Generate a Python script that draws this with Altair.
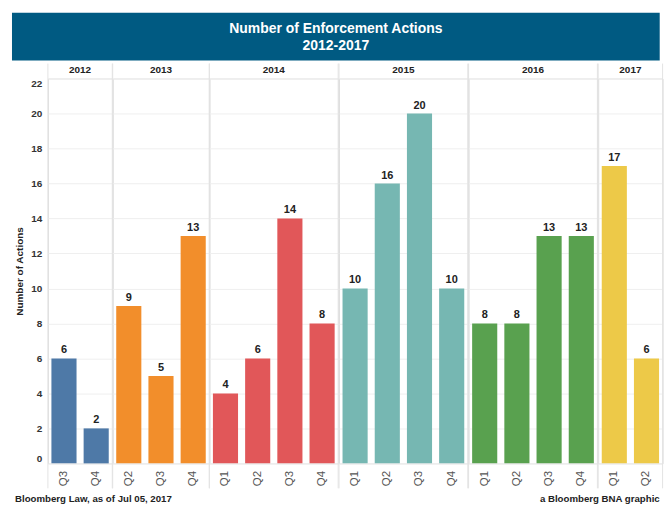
import altair as alt
import pandas as pd

years = ["2012", "2012", "2013", "2013", "2013", "2014", "2014", "2014", "2014",
         "2015", "2015", "2015", "2015", "2016", "2016", "2016", "2016", "2017", "2017"]
quarters = ["Q3", "Q4", "Q2", "Q3", "Q4", "Q1", "Q2", "Q3", "Q4",
            "Q1", "Q2", "Q3", "Q4", "Q1", "Q2", "Q3", "Q4", "Q1", "Q2"]
actions = [6, 2, 9, 5, 13, 4, 6, 14, 8, 10, 16, 20, 10, 8, 8, 13, 13, 17, 6]

year_order = ["2012", "2013", "2014", "2015", "2016", "2017"]
year_colors = ["#4e79a7", "#f28e2b", "#e15759", "#76b7b2", "#59a14f", "#edc948"]
y_ticks = list(range(0, 23, 2))

title_text = "Number of Enforcement Actions\n2012-2017"
footer_left = "Bloomberg Law, as of Jul 05, 2017"
footer_right = "a Bloomberg BNA graphic"

FONT = "Liberation Sans, Arial, sans-serif"
STEP = 32.3
PLOT_W = STEP * len(actions)
PLOT_H = 386
LEFT = 36  # room for y axis, left of plot area
SEP = "#e3e3e3"

df = pd.DataFrame({"year": years, "quarter": quarters, "actions": actions})

banner_bg = alt.Chart(pd.DataFrame({"t": [title_text]})).mark_rect(color="#005a82").encode(
    x=alt.value(-LEFT), x2=alt.value(PLOT_W), y=alt.value(0), y2=alt.value(48)
)
banner_txt = alt.Chart(pd.DataFrame({"t": [title_text]})).mark_text(
    font=FONT, fontSize=14, fontWeight="bold", color="white",
    lineBreak="\n", lineHeight=17, align="center", baseline="middle"
).encode(text="t:N", x=alt.value((PLOT_W - LEFT) / 2), y=alt.value(16))
banner = alt.layer(banner_bg, banner_txt).properties(
    width=PLOT_W, height=48, view=alt.ViewBackground(stroke=None)
)

y_label_baseline = {
    "condition": [
        {"test": "datum.value == 22", "value": "top"},
        {"test": "datum.value == 0", "value": "bottom"},
    ],
    "value": "middle",
}

x_enc = alt.X("quarter:N", title=None, sort=None,
              scale=alt.Scale(paddingInner=0.22, paddingOuter=0.11),
              axis=alt.Axis(labelAngle=270, labelFont=FONT, labelFontSize=11.5,
                            labelColor="#555", ticks=False, domain=False,
                            labelPadding=7, labelAlign="right", labelBaseline="middle"))
y_enc = alt.Y("actions:Q", title="Number of Actions",
              scale=alt.Scale(domain=[0, 22], nice=False),
              axis=alt.Axis(values=y_ticks, tickCount=12, labelOverlap=False,
                            labelBaseline=y_label_baseline,
                            labelFont=FONT, labelFontSize=10, labelFontWeight="bold",
                            labelColor="#333", titleFont=FONT, titleFontSize=10,
                            titleFontWeight="bold", titleColor="#222", ticks=False,
                            domain=False, gridColor="#efefef", labelPadding=6,
                            titlePadding=6))

base = alt.Chart().encode(x=x_enc, y=y_enc)
bars = base.mark_bar().encode(
    color=alt.Color("year:N", legend=None,
                    scale=alt.Scale(domain=year_order, range=year_colors)),
)
labels = base.mark_text(font=FONT, fontSize=11, fontWeight="bold", color="#222",
                        dy=-8).encode(text="actions:Q")

sep_left = alt.Chart().transform_aggregate(n="count()", groupby=["year"]).mark_rule(
    color=SEP, strokeWidth=1
).encode(x=alt.value(0), y=alt.value(-15), y2=alt.value(PLOT_H + 25))
sep_right = alt.Chart().transform_aggregate(n="count()", groupby=["year"]).mark_rule(
    color=SEP, strokeWidth=1
).encode(x=alt.value("width"), y=alt.value(-15), y2=alt.value(PLOT_H + 25))

facet = alt.layer(bars, labels, sep_left, sep_right, data=df).properties(
    width=alt.Step(STEP), height=PLOT_H
).facet(
    column=alt.Column("year:N", sort=year_order, title=None,
                      header=alt.Header(labelOrient="top", labelFont=FONT,
                                        labelFontSize=10, labelFontWeight="bold",
                                        labelColor="#222", labelPadding=4)),
    spacing=0,
    bounds="flush",
).resolve_scale(x="independent")

footer = alt.layer(
    alt.Chart(pd.DataFrame({"t": [footer_left]})).mark_text(
        font=FONT, fontSize=9.7, fontWeight="bold", color="#222", align="left"
    ).encode(text="t:N", x=alt.value(-LEFT + 3), y=alt.value(8)),
    alt.Chart(pd.DataFrame({"t": [footer_right]})).mark_text(
        font=FONT, fontSize=9.7, fontWeight="bold", color="#222", align="right"
    ).encode(text="t:N", x=alt.value(PLOT_W), y=alt.value(8)),
).properties(width=PLOT_W, height=16, view=alt.ViewBackground(stroke=None))

chart = alt.vconcat(banner, facet, footer, spacing=2).properties(
    padding={"left": 4, "top": 4, "right": 0, "bottom": 0}
).configure_view(stroke=SEP).configure(background="white")

chart.save("out.html", embed_options={"renderer": "svg", "actions": False})
